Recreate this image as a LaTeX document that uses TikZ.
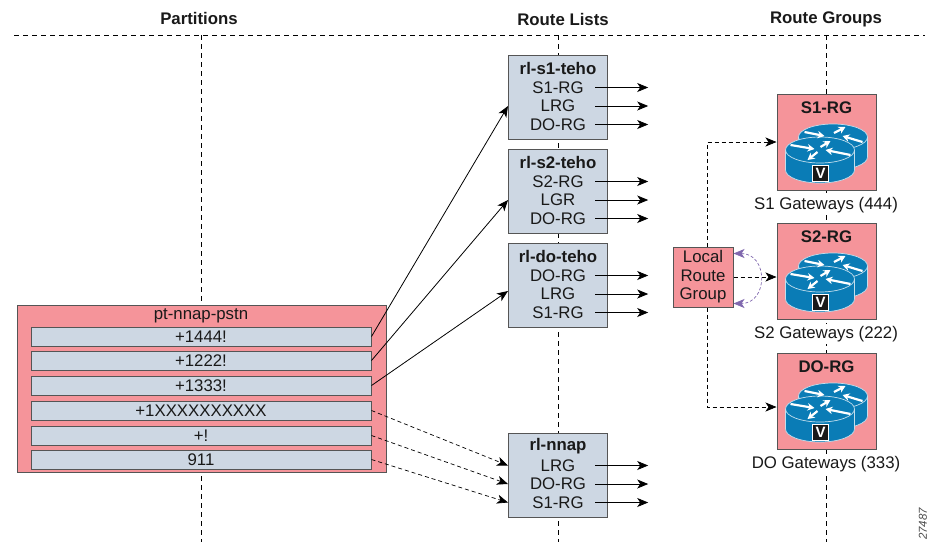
\documentclass[tikz,border=0pt]{standalone}
\usepackage{fontspec}
\setmainfont{Liberation Sans}
\usetikzlibrary{arrows.meta}
\definecolor{rgpink}{HTML}{F5949A}
\definecolor{rlblue}{HTML}{CDD7E3}
\definecolor{gwblue}{HTML}{0A7CB6}
\definecolor{lrgpurple}{HTML}{8068AE}
\definecolor{edgegrey}{HTML}{555555}

\begin{document}
\begin{tikzpicture}[x=1pt,y=-1pt,
   >={Stealth[length=11pt,width=9pt,inset=3pt]},
   txt/.style={font=\fontsize{16.8}{18.5}\selectfont,text=black!90,inner sep=0pt},
   head/.style={txt,font=\fontsize{16.8}{18.5}\selectfont\bfseries},
   guide/.style={dash pattern=on 5pt off 4pt,line width=.8pt},
   link/.style={dash pattern=on 4pt off 3pt,line width=.7pt,->},
   pinkbox/.style={draw=edgegrey,fill=rgpink,line width=1pt,inner sep=0pt},
   listbox/.style={draw=edgegrey,fill=rlblue,line width=1pt,inner sep=0pt,minimum width=99pt,minimum height=84pt},
   rowbox/.style={listbox,txt,minimum width=340pt,minimum height=19pt,draw=edgegrey},
   rgline/.style={txt,minimum width=74pt,minimum height=12pt,align=center},
   rgbox/.style={pinkbox,minimum width=99pt,minimum height=96pt},
   gwlabel/.style={txt,fill=white,inner ysep=2pt,inner xsep=1pt},
   pics/router/.style={code={
      \foreach \cx/\cy in {6.5/43,-6.5/56}{
         \draw[draw=white!75!gwblue,fill=gwblue,line width=.7pt]
            (\cx-34.5,\cy) -- ++(0,20) arc[start angle=180,end angle=360,x radius=34.5pt,y radius=13pt]
            -- ++(0,-20) (\cx,\cy) ellipse[x radius=34.5pt,y radius=13pt];
      }
      \foreach \ax/\ay/\bx/\by in {-22/38/-2/42,7.5/39/19/33,36/48/16/42,-36/51/-12/55,
                                   -6/53/4/47,24/61/-1/56,-9/58/-19/66}{
         \draw[white,line width=2.2pt,-{Stealth[length=7pt,width=7.5pt]}] (\ax,\ay) -- (\bx,\by);
      }
      \node[draw=white,fill=black!90,text=white,line width=.7pt,inner sep=0pt,minimum size=16pt,
            font=\fontsize{15}{15}\selectfont\bfseries] (badge) at (-6,79) {V};
   }}]
\useasboundingbox (0,0) rectangle (930,542);
% column headings and guides
\node[head] (hpart) at (199,18.5) {Partitions};
\node[head] (hlist) at (563,19) {Route Lists};
\node[head] (hgrp) at (826,19) {Route Groups};
\coordinate (topl) at (14,35);
\coordinate (topr) at (925,35);
\draw[guide] (topl) -- (topr);
\foreach \gx in {201,558,826.5}{
   \draw[guide] (\gx,35) -- (\gx,542);
}
% partition
\node[pinkbox,minimum width=369pt,minimum height=167pt] (ptnnap) at (201.5,388.5) {};
\node[txt] (pttitle) at (201,316) {pt-nnap-pstn};
\foreach \name/\ry/\pat in {pa/336.5/+1444!,pb/360.5/+1222!,pc/385.5/+1333!,
                            pd/410.5/+1XXXXXXXXXX,pe/435.5/+!,pf/459.5/911}{
   \node[rowbox] (\name) at (201,\ry) {\pat};
}
% route lists
\foreach \name/\ty/\title/\la/\lb/\lc in {rlsa/55/rl-s1-teho/S1-RG/LRG/DO-RG,
                                          rlsb/149/rl-s2-teho/S2-RG/LGR/DO-RG,
                                          rldo/243/rl-do-teho/DO-RG/LRG/S1-RG,
                                          rlnn/433/rl-nnap/LRG/DO-RG/S1-RG}{
   \node[listbox,anchor=north] (\name) at (558,\ty) {};
   \node[head] (\name t) at (558,\ty+13.5) {\title};
   \node[rgline] (\name a) at (558,\ty+32.5) {\la};
   \node[rgline] (\name b) at (558,\ty+51) {\lb};
   \node[rgline] (\name c) at (558,\ty+69.5) {\lc};
   \foreach \k in {a,b,c}{
      \coordinate (\name\k o) at ([xshift=53pt]\name\k.east);
      \draw[->,line width=.8pt] (\name\k.east) -- (\name\k o);
   }
}
% route groups
\foreach \name/\ty/\title/\gw/\gy in {rga/94/S1-RG/S1 Gateways (444)/205,
                                      rgb/223/S2-RG/S2 Gateways (222)/334,
                                      rgc/353/DO-RG/DO Gateways (333)/464}{
   \node[rgbox,anchor=north] (\name) at (826.5,\ty) {};
   \node[head] (\name t) at (826.5,\ty+13.5) {\title};
   \pic (\name r) at (826.5,\ty) {router};
   \node[gwlabel] (\name g) at (826,\gy) {\gw};
}
\node[pinkbox,txt,draw=edgegrey,minimum width=60pt,minimum height=60pt,align=center] (lrg) at (703,277) {Local\\Route\\Group};
% partition to route list
\draw[->,line width=.8pt] (pa.east) -- (rlsa.west |- rlsab);
\draw[->,line width=.8pt] (pb.east) -- (rlsb.west |- rlsbb);
\draw[->,line width=.8pt] (pc.east) -- ([yshift=3pt]rldo.west |- rldob);
\draw[link] (pd.east) -- (rlnn.west |- rlnna);
\draw[link] (pe.east) -- (rlnn.west |- rlnnb);
\draw[link] (pf.east) -- (rlnn.west |- rlnnc);
% local route group
\draw[link] (lrg.north -| 707,0) |- (rga.west |- 0,142);
\draw[link] (lrg.east) -- (rgb.west |- lrg.east);
\draw[link] (lrg.south -| 707,0) |- (rgc.west |- 0,407);
\draw[lrgpurple,dash pattern=on 3pt off 2pt,line width=.7pt,<->]
   ([yshift=-7pt]lrg.north east) .. controls +(35,0) and +(35,0) .. ([yshift=4pt]lrg.south east);
\node[text=black!70,font=\fontsize{11.5}{11.5}\selectfont\itshape,rotate=90,inner sep=0pt] (figno) at (923,524) {27487};
\end{tikzpicture}
\end{document}
